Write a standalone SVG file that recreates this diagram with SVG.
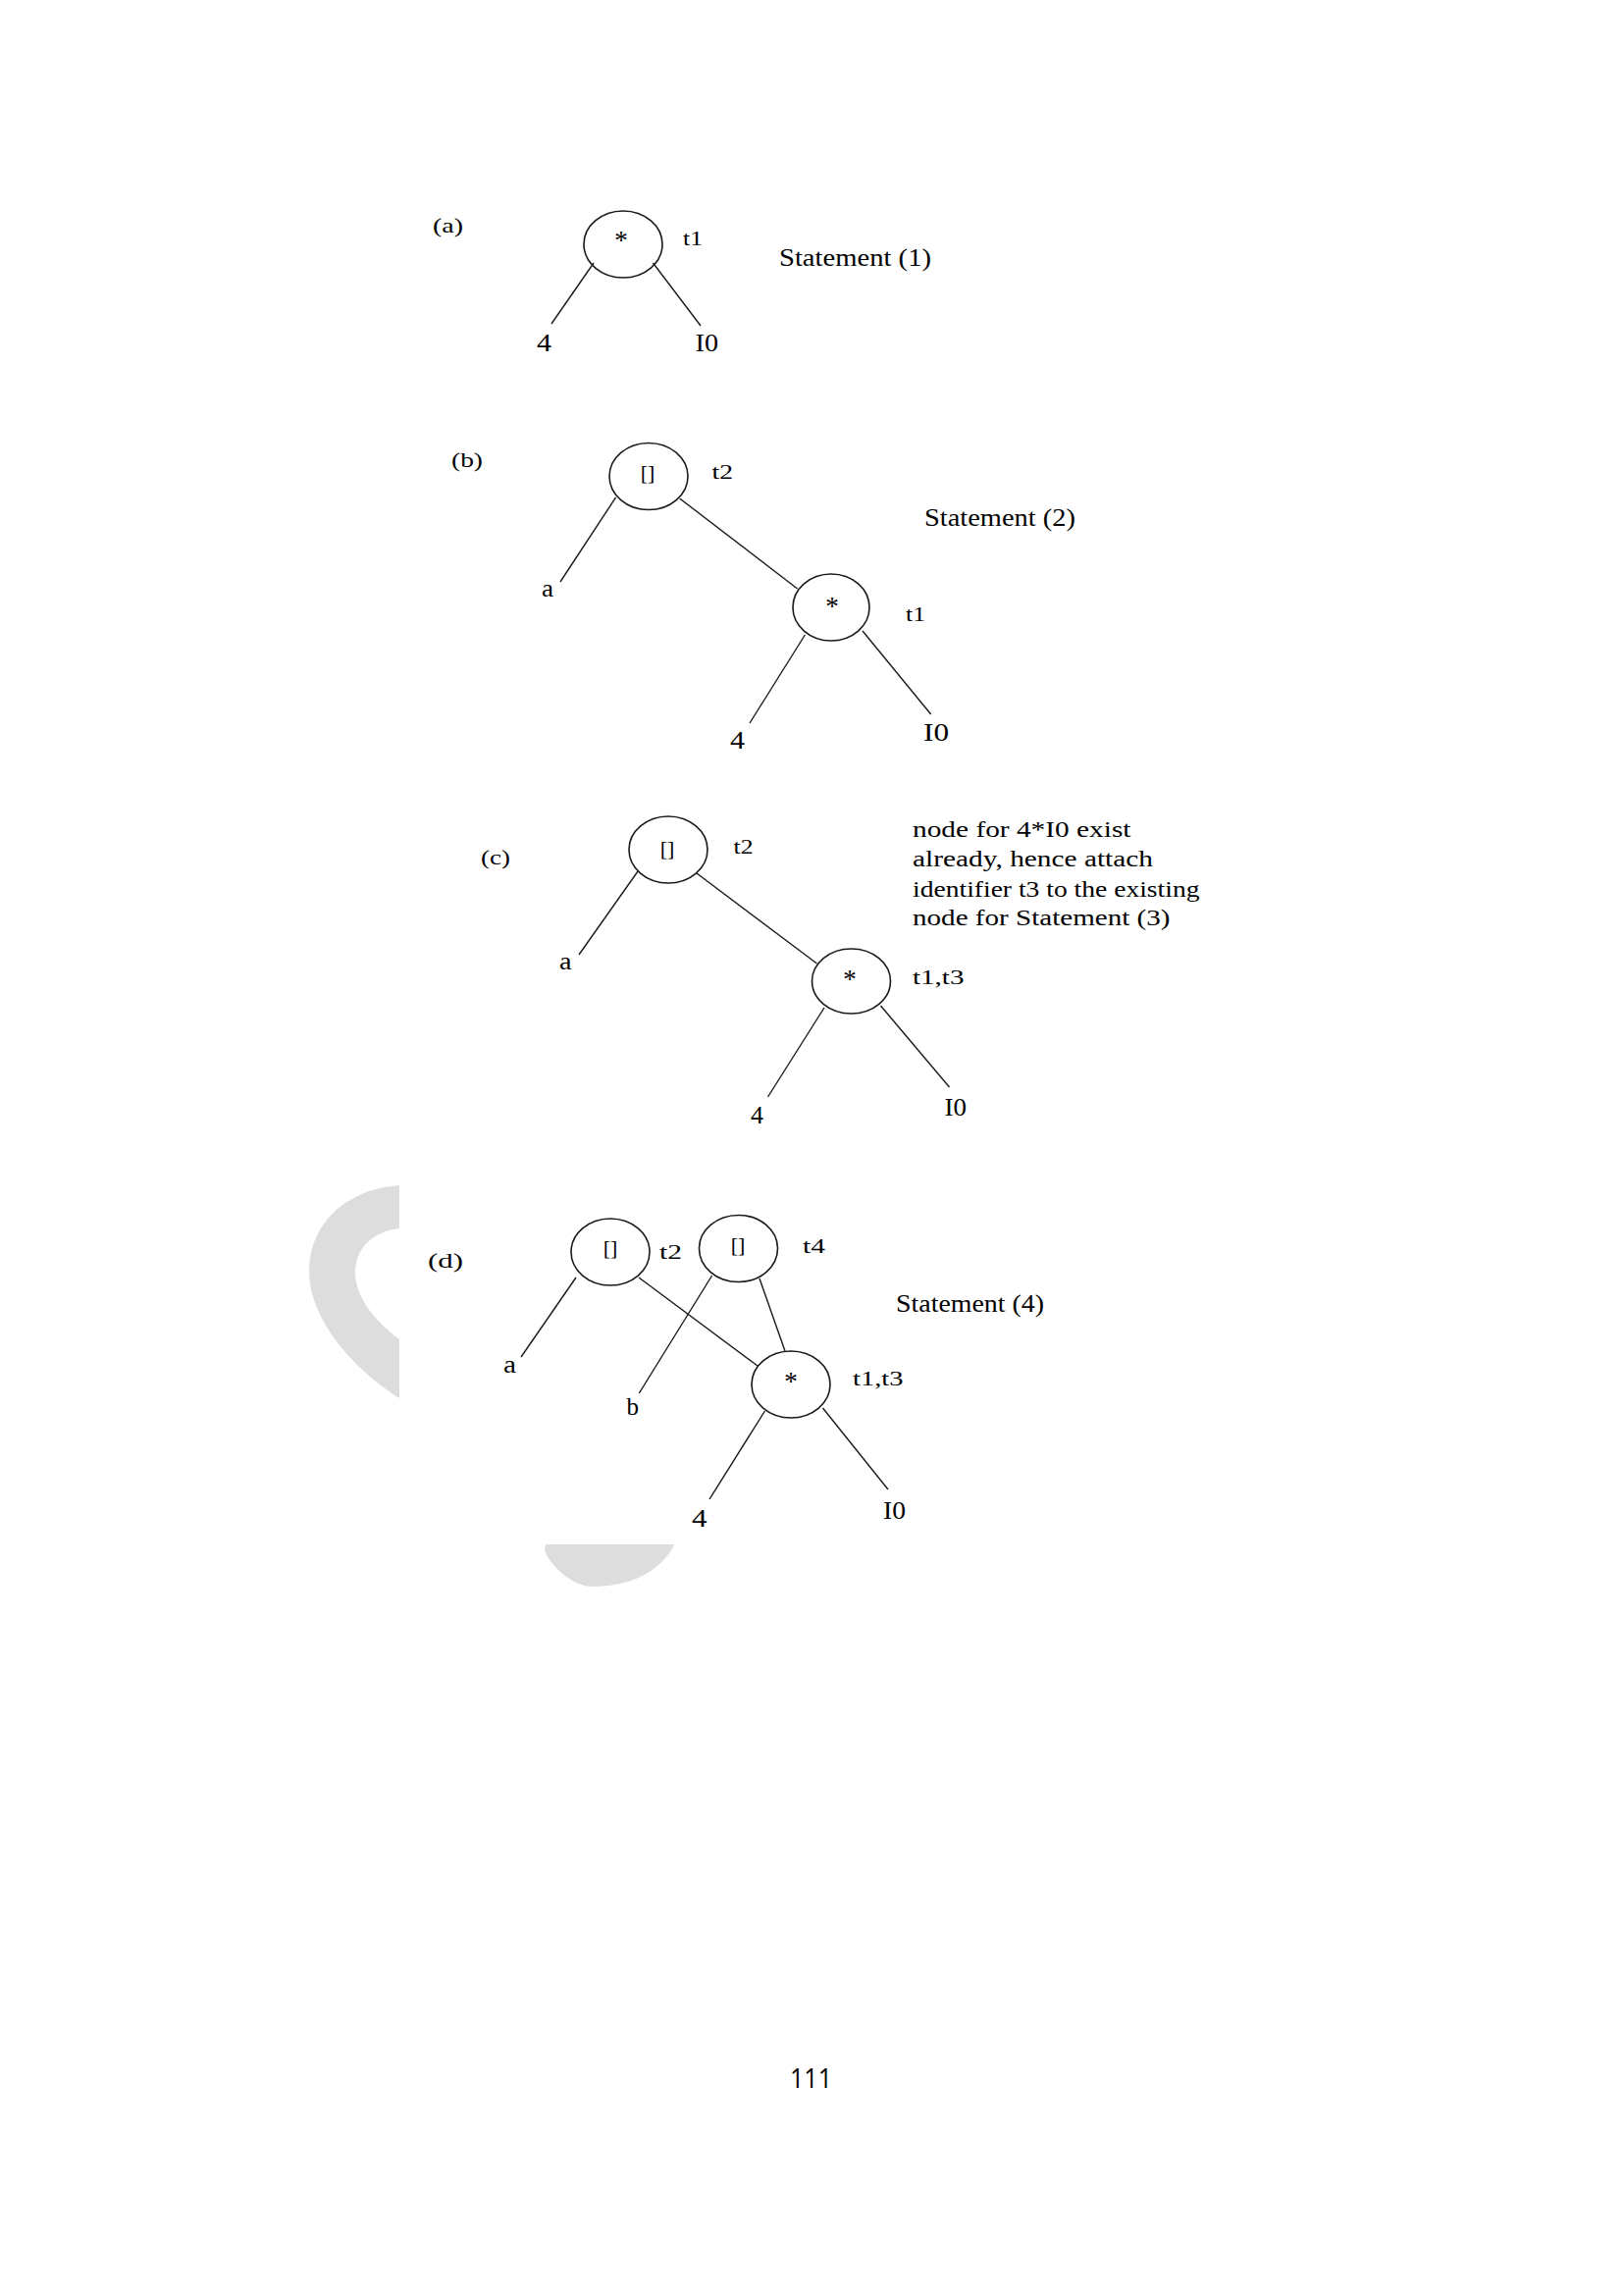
<svg xmlns="http://www.w3.org/2000/svg" width="1655" height="2339" viewBox="0 0 1655 2339">
<style>
text{font-family:"Liberation Serif","Times New Roman",serif;fill:#000}
.cap{font-size:22px}
.st{font-size:25px}
.tl{font-size:20px}
.lf{font-size:25px}
.op{font-size:22px;text-anchor:middle}
.ast{font-size:27px;text-anchor:middle}
.blk{font-size:24px}
.pg{font-family:"Open Sans","Liberation Sans",sans-serif;font-size:27px}
ellipse{fill:none;stroke:#1a1a1a;stroke-width:1.6}
#connectors line{stroke:#1a1a1a;stroke-width:1.4}
.wm{fill:#dddddd}
</style>
<rect width="1655" height="2339" fill="#ffffff"/>
<g id="watermark">
<path class="wm" d="M407,1208 C350,1212 315,1250 315,1295 C315,1345 360,1395 407,1425 L407,1365 C380,1345 362,1320 362,1297 C362,1272 380,1255 407,1252 Z"/>
<path class="wm" d="M557,1574 L687,1574 C678,1595 650,1617 604,1617 C585,1617 566,1600 557,1585 Q553,1576 557,1574 Z"/>
</g>
<g id="connectors">
<line x1="605" y1="268" x2="562" y2="330"/>
<line x1="665.5" y1="268" x2="714" y2="332"/>
<line x1="627.5" y1="507" x2="571" y2="593"/>
<line x1="692.6" y1="508" x2="812.6" y2="600"/>
<line x1="820.4" y1="647" x2="764" y2="737"/>
<line x1="879" y1="643" x2="948.7" y2="728"/>
<line x1="650" y1="888" x2="590" y2="973"/>
<line x1="710" y1="890" x2="832.5" y2="982"/>
<line x1="840" y1="1027" x2="782.5" y2="1118"/>
<line x1="897.5" y1="1025" x2="967.5" y2="1108"/>
<line x1="587" y1="1302" x2="531" y2="1383"/>
<line x1="651" y1="1302" x2="772" y2="1392"/>
<line x1="725.6" y1="1300" x2="651.3" y2="1420"/>
<line x1="774" y1="1303" x2="800" y2="1377"/>
<line x1="779.5" y1="1438" x2="723" y2="1528"/>
<line x1="838.5" y1="1435" x2="905" y2="1518"/>
</g>
<g id="panel-a">
<text class="cap" x="441" y="237" textLength="31" lengthAdjust="spacingAndGlyphs">(a)</text>
<text class="st" x="794" y="271" textLength="155" lengthAdjust="spacingAndGlyphs">Statement (1)</text>
<g id="a-mul"><ellipse cx="635" cy="249" rx="40" ry="34"/><text class="ast" x="633" y="254">*</text><text class="tl" x="696" y="250" textLength="20" lengthAdjust="spacingAndGlyphs">t1</text></g>
<g id="a-4"><text class="lf" x="547" y="358" textLength="15" lengthAdjust="spacingAndGlyphs">4</text></g>
<g id="a-I0"><text class="lf" x="708.5" y="358" textLength="23.5" lengthAdjust="spacingAndGlyphs">I0</text></g>
</g>
<g id="panel-b">
<text class="cap" x="460" y="476" textLength="32" lengthAdjust="spacingAndGlyphs">(b)</text>
<text class="st" x="942" y="536" textLength="154" lengthAdjust="spacingAndGlyphs">Statement (2)</text>
<g id="b-idx"><ellipse cx="661" cy="485.5" rx="40" ry="34"/><text class="op" x="660" y="489">[]</text><text class="tl" x="725.5" y="488" textLength="21.5" lengthAdjust="spacingAndGlyphs">t2</text></g>
<g id="b-a"><text class="lf" x="552" y="608" textLength="12" lengthAdjust="spacingAndGlyphs">a</text></g>
<g id="b-mul"><ellipse cx="847" cy="619" rx="39" ry="34"/><text class="ast" x="848" y="627">*</text><text class="tl" x="923" y="633" textLength="20" lengthAdjust="spacingAndGlyphs">t1</text></g>
<g id="b-4"><text class="lf" x="744" y="763" textLength="15" lengthAdjust="spacingAndGlyphs">4</text></g>
<g id="b-I0"><text class="lf" x="941" y="755" textLength="26" lengthAdjust="spacingAndGlyphs">I0</text></g>
</g>
<g id="panel-c">
<text class="cap" x="490" y="881" textLength="30" lengthAdjust="spacingAndGlyphs">(c)</text>
<text class="blk" x="930" y="853" textLength="222.5" lengthAdjust="spacingAndGlyphs">node for 4*I0 exist</text>
<text class="blk" x="930" y="883" textLength="245" lengthAdjust="spacingAndGlyphs">already, hence attach</text>
<text class="blk" x="930" y="914" textLength="292.5" lengthAdjust="spacingAndGlyphs">identifier t3 to the existing</text>
<text class="blk" x="930" y="943" textLength="262.5" lengthAdjust="spacingAndGlyphs">node for Statement (3)</text>
<g id="c-idx"><ellipse cx="681" cy="866" rx="40" ry="34"/><text class="op" x="680" y="872">[]</text><text class="tl" x="747.5" y="870" textLength="20" lengthAdjust="spacingAndGlyphs">t2</text></g>
<g id="c-a"><text class="lf" x="570" y="988" textLength="12.5" lengthAdjust="spacingAndGlyphs">a</text></g>
<g id="c-mul"><ellipse cx="867.5" cy="1000" rx="40" ry="33"/><text class="ast" x="866" y="1007">*</text><text class="tl" x="930" y="1003" textLength="52.5" lengthAdjust="spacingAndGlyphs">t1,t3</text></g>
<g id="c-4"><text class="lf" x="765" y="1145" textLength="13" lengthAdjust="spacingAndGlyphs">4</text></g>
<g id="c-I0"><text class="lf" x="962.5" y="1137" textLength="22.5" lengthAdjust="spacingAndGlyphs">I0</text></g>
</g>
<g id="panel-d">
<text class="cap" x="436" y="1292" textLength="36" lengthAdjust="spacingAndGlyphs">(d)</text>
<text class="st" x="913" y="1337" textLength="151" lengthAdjust="spacingAndGlyphs">Statement (4)</text>
<g id="d-idx-t2"><ellipse cx="622" cy="1276" rx="40" ry="34"/><text class="op" x="622" y="1279">[]</text><text class="tl" x="672" y="1283" textLength="23" lengthAdjust="spacingAndGlyphs">t2</text></g>
<g id="d-idx-t4"><ellipse cx="752.5" cy="1272.5" rx="40" ry="34"/><text class="op" x="752" y="1276">[]</text><text class="tl" x="818" y="1277" textLength="23" lengthAdjust="spacingAndGlyphs">t4</text></g>
<g id="d-a"><text class="lf" x="513" y="1399" textLength="13" lengthAdjust="spacingAndGlyphs">a</text></g>
<g id="d-b"><text class="lf" x="638.5" y="1442" textLength="12.5" lengthAdjust="spacingAndGlyphs">b</text></g>
<g id="d-mul"><ellipse cx="806" cy="1411" rx="40" ry="34"/><text class="ast" x="806" y="1417">*</text><text class="tl" x="869" y="1412" textLength="51.5" lengthAdjust="spacingAndGlyphs">t1,t3</text></g>
<g id="d-4"><text class="lf" x="705" y="1556" textLength="15.5" lengthAdjust="spacingAndGlyphs">4</text></g>
<g id="d-I0"><text class="lf" x="900" y="1548" textLength="23" lengthAdjust="spacingAndGlyphs">I0</text></g>
</g>
<text class="pg" x="805" y="2128" textLength="43" lengthAdjust="spacingAndGlyphs">111</text>
</svg>
